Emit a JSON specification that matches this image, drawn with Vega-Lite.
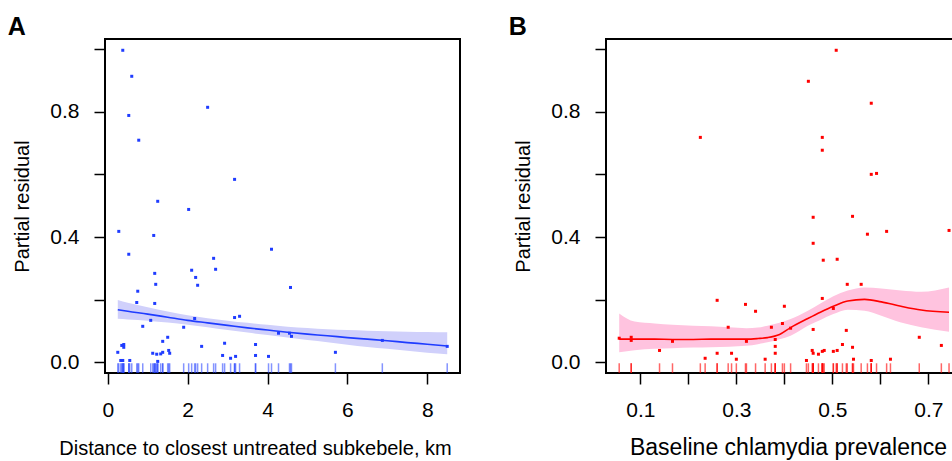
{
  "$schema": "https://vega.github.io/schema/vega-lite/v6.json",
  "padding": {"left": 6, "top": 14, "right": 0, "bottom": 0},
  "background": "white",
  "config": {
    "font": "Liberation Sans",
    "view": {"stroke": "black", "strokeWidth": 2},
    "axis": {"domain": false, "grid": false, "tickColor": "black", "tickSize": 11, "tickWidth": 1.5, "labelFontSize": 21, "labelColor": "black", "titleFontSize": 20, "titleFontWeight": "normal", "titleColor": "black", "labelFont": "Liberation Sans", "titleFont": "Liberation Sans", "labelOverlap": false, "labelFlush": false},
    "axisY": {"labelPadding": 15, "titlePadding": 17},
    "axisX": {"labelPadding": 15, "titlePadding": 18},
    "title": {"fontSize": 25, "fontWeight": "bold", "anchor": "start", "frame": "bounds", "font": "Liberation Sans", "offset": -2, "baseline": "alphabetic", "color": "black", "dx": -5},
    "concat": {"spacing": 46}
  },
  "datasets": {
    "ptsA": [
      {"x": 0.375, "y": 0.996}, {"x": 0.6, "y": 0.913}, {"x": 2.5, "y": 0.814}, {"x": 0.525, "y": 0.788},
      {"x": 0.775, "y": 0.709}, {"x": 3.175, "y": 0.584}, {"x": 1.25, "y": 0.514}, {"x": 2.025, "y": 0.488},
      {"x": 0.275, "y": 0.418}, {"x": 1.15, "y": 0.405}, {"x": 0.525, "y": 0.345}, {"x": 4.1, "y": 0.361},
      {"x": 2.65, "y": 0.332}, {"x": 2.7, "y": 0.297}, {"x": 2.1, "y": 0.294}, {"x": 1.175, "y": 0.284},
      {"x": 2.2, "y": 0.271}, {"x": 1.2, "y": 0.249}, {"x": 2.25, "y": 0.246}, {"x": 4.575, "y": 0.239},
      {"x": 0.75, "y": 0.227}, {"x": 0.725, "y": 0.191}, {"x": 1.175, "y": 0.188}, {"x": 1.075, "y": 0.134},
      {"x": 2.175, "y": 0.14}, {"x": 3.175, "y": 0.143}, {"x": 3.3, "y": 0.147}, {"x": 0.875, "y": 0.115},
      {"x": 1.9, "y": 0.112}, {"x": 4.275, "y": 0.093}, {"x": 4.55, "y": 0.093}, {"x": 4.6, "y": 0.083},
      {"x": 6.875, "y": 0.07}, {"x": 8.5, "y": 0.051}, {"x": 1.5, "y": 0.08}, {"x": 1.375, "y": 0.067},
      {"x": 0.35, "y": 0.054}, {"x": 0.4, "y": 0.057}, {"x": 0.4, "y": 0.048}, {"x": 2.35, "y": 0.051},
      {"x": 2.925, "y": 0.061}, {"x": 3.7, "y": 0.057}, {"x": 0.25, "y": 0.032}, {"x": 1.525, "y": 0.038},
      {"x": 1.125, "y": 0.029}, {"x": 1.225, "y": 0.026}, {"x": 1.325, "y": 0.027}, {"x": 1.375, "y": 0.032},
      {"x": 1.55, "y": 0.029}, {"x": 2.875, "y": 0.022}, {"x": 3.2, "y": 0.019}, {"x": 3.7, "y": 0.022},
      {"x": 4.025, "y": 0.019}, {"x": 3.075, "y": 0.013}, {"x": 5.7, "y": 0.032}, {"x": 0.325, "y": 0.006},
      {"x": 0.375, "y": 0.006}, {"x": 0.55, "y": 0.006}, {"x": 1.25, "y": 0.003}
    ],
    "fitA": [
      {"x": 0.25, "fit": 0.168, "lo": 0.139, "hi": 0.199}, {"x": 0.5, "fit": 0.163, "lo": 0.137, "hi": 0.19},
      {"x": 1, "fit": 0.154, "lo": 0.133, "hi": 0.176}, {"x": 1.5, "fit": 0.144, "lo": 0.127, "hi": 0.162},
      {"x": 2, "fit": 0.134, "lo": 0.12, "hi": 0.15}, {"x": 2.5, "fit": 0.126, "lo": 0.112, "hi": 0.141},
      {"x": 3, "fit": 0.118, "lo": 0.103, "hi": 0.133}, {"x": 3.5, "fit": 0.11, "lo": 0.095, "hi": 0.126},
      {"x": 4, "fit": 0.103, "lo": 0.087, "hi": 0.12}, {"x": 4.5, "fit": 0.096, "lo": 0.079, "hi": 0.114},
      {"x": 5, "fit": 0.09, "lo": 0.071, "hi": 0.11}, {"x": 5.5, "fit": 0.085, "lo": 0.064, "hi": 0.106},
      {"x": 6, "fit": 0.079, "lo": 0.056, "hi": 0.103}, {"x": 6.5, "fit": 0.074, "lo": 0.049, "hi": 0.101},
      {"x": 7, "fit": 0.069, "lo": 0.043, "hi": 0.099}, {"x": 7.5, "fit": 0.063, "lo": 0.037, "hi": 0.098},
      {"x": 8, "fit": 0.058, "lo": 0.031, "hi": 0.097}, {"x": 8.5, "fit": 0.052, "lo": 0.026, "hi": 0.096}
    ],
    "ptsB": [
      {"x": 0.508, "y": 0.996}, {"x": 0.45, "y": 0.897}, {"x": 0.581, "y": 0.827}, {"x": 0.225, "y": 0.718},
      {"x": 0.479, "y": 0.718}, {"x": 0.479, "y": 0.677}, {"x": 0.581, "y": 0.6}, {"x": 0.592, "y": 0.603},
      {"x": 0.46, "y": 0.463}, {"x": 0.542, "y": 0.466}, {"x": 0.573, "y": 0.409}, {"x": 0.613, "y": 0.418},
      {"x": 0.743, "y": 0.421}, {"x": 0.46, "y": 0.38}, {"x": 0.481, "y": 0.326}, {"x": 0.51, "y": 0.329},
      {"x": 0.531, "y": 0.249}, {"x": 0.56, "y": 0.249}, {"x": 0.26, "y": 0.198}, {"x": 0.479, "y": 0.204},
      {"x": 0.319, "y": 0.185}, {"x": 0.4, "y": 0.179}, {"x": 0.34, "y": 0.163}, {"x": 0.502, "y": 0.172},
      {"x": 0.396, "y": 0.124}, {"x": 0.283, "y": 0.112}, {"x": 0.373, "y": 0.112}, {"x": 0.413, "y": 0.109},
      {"x": 0.46, "y": 0.105}, {"x": 0.529, "y": 0.102}, {"x": 0.056, "y": 0.077}, {"x": 0.081, "y": 0.08},
      {"x": 0.081, "y": 0.07}, {"x": 0.167, "y": 0.067}, {"x": 0.321, "y": 0.067}, {"x": 0.381, "y": 0.073},
      {"x": 0.681, "y": 0.08}, {"x": 0.727, "y": 0.054}, {"x": 0.381, "y": 0.051}, {"x": 0.521, "y": 0.057},
      {"x": 0.542, "y": 0.048}, {"x": 0.14, "y": 0.038}, {"x": 0.458, "y": 0.038}, {"x": 0.483, "y": 0.038},
      {"x": 0.479, "y": 0.035}, {"x": 0.502, "y": 0.035}, {"x": 0.51, "y": 0.038}, {"x": 0.26, "y": 0.029},
      {"x": 0.29, "y": 0.029}, {"x": 0.381, "y": 0.029}, {"x": 0.46, "y": 0.029}, {"x": 0.471, "y": 0.026},
      {"x": 0.235, "y": 0.013}, {"x": 0.3, "y": 0.01}, {"x": 0.36, "y": 0.01}, {"x": 0.544, "y": 0.01},
      {"x": 0.621, "y": 0.01}, {"x": 0.446, "y": 0.006}, {"x": 0.581, "y": 0.006}
    ],
    "fitB": [
      {"x": 0.056, "fit": 0.074, "lo": 0.032, "hi": 0.156}, {"x": 0.088, "fit": 0.074, "lo": 0.039, "hi": 0.13},
      {"x": 0.13, "fit": 0.074, "lo": 0.043, "hi": 0.124}, {"x": 0.167, "fit": 0.073, "lo": 0.045, "hi": 0.12},
      {"x": 0.21, "fit": 0.073, "lo": 0.047, "hi": 0.117}, {"x": 0.247, "fit": 0.074, "lo": 0.048, "hi": 0.115},
      {"x": 0.285, "fit": 0.074, "lo": 0.05, "hi": 0.112}, {"x": 0.321, "fit": 0.074, "lo": 0.053, "hi": 0.109},
      {"x": 0.345, "fit": 0.076, "lo": 0.058, "hi": 0.111}, {"x": 0.365, "fit": 0.079, "lo": 0.064, "hi": 0.117},
      {"x": 0.39, "fit": 0.089, "lo": 0.074, "hi": 0.126}, {"x": 0.413, "fit": 0.111, "lo": 0.085, "hi": 0.138},
      {"x": 0.449, "fit": 0.14, "lo": 0.117, "hi": 0.165}, {"x": 0.475, "fit": 0.16, "lo": 0.135, "hi": 0.188},
      {"x": 0.502, "fit": 0.179, "lo": 0.154, "hi": 0.211}, {"x": 0.532, "fit": 0.196, "lo": 0.168, "hi": 0.229},
      {"x": 0.567, "fit": 0.201, "lo": 0.165, "hi": 0.239}, {"x": 0.602, "fit": 0.193, "lo": 0.149, "hi": 0.236},
      {"x": 0.643, "fit": 0.179, "lo": 0.127, "hi": 0.229}, {"x": 0.685, "fit": 0.167, "lo": 0.112, "hi": 0.225},
      {"x": 0.743, "fit": 0.16, "lo": 0.098, "hi": 0.239}
    ]
  },
  "hconcat": [
    {
      "width": 355,
      "height": 334,
      "title": {"text": "A"},
      "layer": [
        {
          "data": {"name": "fitA"},
          "mark": {"type": "area", "color": "#d0d0fb", "interpolate": "monotone"},
          "encoding": {
            "x": {"field": "x", "type": "quantitative", "scale": {"domain": [-0.07, 8.82], "nice": false, "zero": false},
              "axis": {"values": [0, 2, 4, 6, 8], "format": "d", "title": "Distance to closest untreated subkebele, km", "titleX": 150}},
            "y": {"field": "lo", "type": "quantitative", "scale": {"domain": [-0.034, 1.032], "nice": false, "zero": false},
              "axis": {"values": [0, 0.2, 0.4, 0.6, 0.8, 1.0], "labelExpr": "(round(datum.value*10) % 4 == 0) ? format(datum.value, '.1f') : ''", "title": "Partial residual"}},
            "y2": {"field": "hi"}
          }
        },
        {
          "data": {"name": "fitA"},
          "mark": {"type": "line", "color": "#1f3cff", "strokeWidth": 1.6, "interpolate": "monotone"},
          "encoding": {
            "x": {"field": "x", "type": "quantitative"},
            "y": {"field": "fit", "type": "quantitative"}
          }
        },
        {
          "data": {"name": "ptsA"},
          "mark": {"type": "rule", "color": "#1f3cff", "strokeWidth": 1.5, "opacity": 0.55},
          "encoding": {
            "x": {"field": "x", "type": "quantitative"},
            "y": {"datum": -0.034},
            "y2": {"datum": -0.003}
          }
        },
        {
          "data": {"name": "ptsA"},
          "mark": {"type": "square", "color": "#1f3cff", "filled": true, "opacity": 1, "size": 9},
          "encoding": {
            "x": {"field": "x", "type": "quantitative"},
            "y": {"field": "y", "type": "quantitative"}
          }
        }
      ]
    },
    {
      "width": 356,
      "height": 334,
      "title": {"text": "B"},
      "layer": [
        {
          "data": {"name": "fitB"},
          "mark": {"type": "area", "color": "#ffc3df", "interpolate": "monotone"},
          "encoding": {
            "x": {"field": "x", "type": "quantitative", "scale": {"domain": [0.0285, 0.77], "nice": false, "zero": false},
              "axis": {"values": [0.1, 0.2, 0.3, 0.4, 0.5, 0.6, 0.7], "labelExpr": "(round(datum.value*10) % 2 == 1) ? format(datum.value, '.1f') : ''", "title": "Baseline chlamydia prevalence", "titleX": 182, "titleFontSize": 23, "titlePadding": 16}},
            "y": {"field": "lo", "type": "quantitative", "scale": {"domain": [-0.034, 1.032], "nice": false, "zero": false},
              "axis": {"values": [0, 0.2, 0.4, 0.6, 0.8, 1.0], "labelExpr": "(round(datum.value*10) % 4 == 0) ? format(datum.value, '.1f') : ''", "title": "Partial residual"}},
            "y2": {"field": "hi"}
          }
        },
        {
          "data": {"name": "fitB"},
          "mark": {"type": "line", "color": "#ff0000", "strokeWidth": 1.6, "interpolate": "monotone"},
          "encoding": {
            "x": {"field": "x", "type": "quantitative"},
            "y": {"field": "fit", "type": "quantitative"}
          }
        },
        {
          "data": {"name": "ptsB"},
          "mark": {"type": "rule", "color": "#ff0000", "strokeWidth": 1.5, "opacity": 0.6},
          "encoding": {
            "x": {"field": "x", "type": "quantitative"},
            "y": {"datum": -0.034},
            "y2": {"datum": -0.003}
          }
        },
        {
          "data": {"name": "ptsB"},
          "mark": {"type": "square", "color": "#ff0000", "filled": true, "opacity": 1, "size": 9},
          "encoding": {
            "x": {"field": "x", "type": "quantitative"},
            "y": {"field": "y", "type": "quantitative"}
          }
        }
      ]
    }
  ]
}
